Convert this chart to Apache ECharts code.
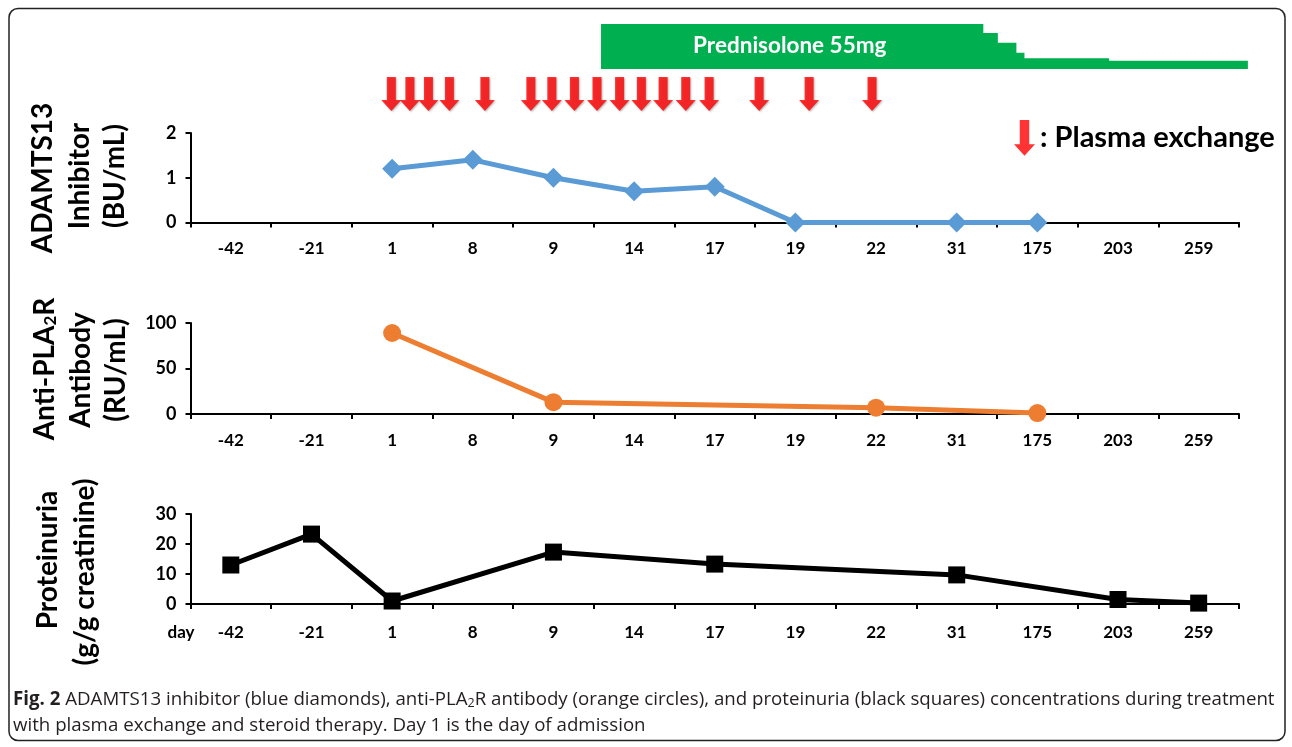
<!DOCTYPE html>
<html>
<head>
<meta charset="utf-8">
<script src="https://cdn.jsdelivr.net/npm/echarts@6/dist/echarts.min.js"></script>
<style>html,body{margin:0;padding:0;background:#fff}#c{width:1292px;height:747px}</style>
</head>
<body>
<div id="c"></div>
<script>
// ---- data ----
const categories = ['-42','-21','1','8','9','14','17','19','22','31','175','203','259'];
const adamts13 = [null, null, 1.2, 1.4, 1.0, 0.7, 0.8, 0, null, 0, 0, null, null];
const antiPLA2R = [null, null, 89, null, 13, null, null, null, 7, null, 1, null, null];
const proteinuria = [13, 23.3, 1, null, 17.3, null, 13.3, null, null, 9.7, null, 1.5, 0.3];
// plasma exchange sessions, positions in category-index units
const plasmaExchange = [1.99, 2.22, 2.45, 2.71, 3.15, 3.72, 3.98, 4.26, 4.54, 4.82, 5.09, 5.36, 5.64, 5.93, 6.55, 7.17, 7.95];
// prednisolone dose steps: start positions (category-index units) and dose (mg)
const predPos = [4.59, 9.33, 9.51, 9.74, 9.84, 10.89, 12.61];
const predDose = [55, 44, 32, 20, 13, 10, 10];

const FONT = 'Lato';
const CAPFONT = '"Open Sans"';
const arrowPath = 'path://M5.5,0 L14.5,0 L14.5,23 L20,23 L10,34 L0,23 L5.5,23 Z';

const chart = echarts.init(document.getElementById('c'));
const AX = '#000';
function xCat(grid, margin) {
  return {
    type: 'category', gridIndex: grid, data: categories, boundaryGap: true,
    axisLine: { show: true, lineStyle: { color: AX, width: 2 } },
    axisTick: { show: true, length: 5, lineStyle: { color: AX, width: 2 } },
    axisLabel: { color: '#000', fontFamily: FONT, fontWeight: 'bold', fontSize: 17, margin: margin, interval: 0 },
    splitLine: { show: false }
  };
}
function yVal(grid, max, interval) {
  return {
    type: 'value', gridIndex: grid, min: 0, max: max, interval: interval,
    axisLine: { show: true, lineStyle: { color: AX, width: 2 } },
    axisTick: { show: true, length: 5, lineStyle: { color: AX, width: 2 } },
    axisLabel: { color: '#000', fontFamily: FONT, fontWeight: 'bold', fontSize: 18, margin: 14 },
    splitLine: { show: false }
  };
}
function vtext(x, y, text, extra) {
  return Object.assign({
    type: 'text', x: x, y: y, rotation: Math.PI / 2,
    style: { text: text, fill: '#000', font: 'bold 28px ' + FONT, align: 'center', verticalAlign: 'middle' }
  }, extra || {});
}

const option = {
  animation: false,
  backgroundColor: '#fff',
  grid: [
    { left: 190.5, width: 1048.5, top: 133, height: 89.5 },
    { left: 190.5, width: 1048.5, top: 323, height: 91 },
    { left: 190.5, width: 1048.5, top: 514, height: 90 },
    { left: 190.5, width: 13.25 * 1048.5 / 13, top: 24, height: 45 },
    { left: 190.5, width: 1048.5, top: 77, height: 34 }
  ],
  xAxis: [
    xCat(0, 18), xCat(1, 18), xCat(2, 20),
    { type: 'value', gridIndex: 3, min: -0.5, max: 12.75, show: false },
    { type: 'value', gridIndex: 4, min: -0.5, max: 12.5, show: false }
  ],
  yAxis: [
    yVal(0, 2, 1), yVal(1, 100, 50), yVal(2, 30, 10),
    { type: 'value', gridIndex: 3, min: 0, max: 55, show: false },
    { type: 'value', gridIndex: 4, min: 0, max: 1, show: false }
  ],
  legend: {
    data: [{ name: 'Plasma exchange', icon: arrowPath }],
    left: 1009, top: 115, itemWidth: 21, itemHeight: 40, itemGap: 4,
    formatter: ': Plasma exchange',
    textStyle: { color: '#000', fontFamily: FONT, fontWeight: 'bold', fontSize: 29 },
    selectedMode: false
  },
  series: [
    {
      name: 'ADAMTS13', type: 'line', xAxisIndex: 0, yAxisIndex: 0, data: adamts13,
      connectNulls: true, symbol: 'diamond', symbolSize: 20,
      itemStyle: { color: '#5B9BD5' }, lineStyle: { color: '#5B9BD5', width: 5 }
    },
    {
      name: 'Anti-PLA2R', type: 'line', xAxisIndex: 1, yAxisIndex: 1, data: antiPLA2R,
      connectNulls: true, symbol: 'circle', symbolSize: 18,
      itemStyle: { color: '#ED7D31' }, lineStyle: { color: '#ED7D31', width: 5 }
    },
    {
      name: 'Proteinuria', type: 'line', xAxisIndex: 2, yAxisIndex: 2, data: proteinuria,
      connectNulls: true, symbol: 'rect', symbolSize: 17,
      itemStyle: { color: '#000' }, lineStyle: { color: '#000', width: 5 }
    },
    {
      name: 'Prednisolone', type: 'line', xAxisIndex: 3, yAxisIndex: 3, step: 'end',
      data: predPos.map((p, i) => [p, predDose[i]]),
      symbol: 'none', lineStyle: { width: 0, color: '#00B050' },
      areaStyle: { color: '#00B050', opacity: 1 },
      markPoint: {
        symbol: 'rect', symbolSize: 1, itemStyle: { color: 'rgba(0,0,0,0)' },
        data: [{ coord: [6.93, 28] }],
        label: { show: true, formatter: 'Prednisolone 55mg', color: '#fff', fontFamily: FONT, fontWeight: 'bold', fontSize: 22.5, position: 'inside' }
      }
    },
    {
      name: 'Plasma exchange', type: 'scatter', xAxisIndex: 4, yAxisIndex: 4,
      data: plasmaExchange.map(p => [p, 0.5]),
      symbol: arrowPath, symbolSize: [20, 34],
      itemStyle: { color: '#FF0000', shadowColor: 'rgba(0,0,0,0.35)', shadowBlur: 2, shadowOffsetX: 1, shadowOffsetY: 1 }
    }
  ],
  graphic: [
    { type: 'rect', shape: { x: 9, y: 8.5, width: 1276, height: 732, r: 9 }, style: { fill: 'none', stroke: '#222', lineWidth: 1.5 }, silent: true },
    vtext(43, 178, 'ADAMTS13'),
    vtext(80, 176, 'Inhibitor'),
    vtext(115, 176, '(BU/mL)'),
    {
      type: 'text', x: 45, y: 369, rotation: Math.PI / 2,
      style: {
        text: 'Anti-PLA{sub|2}R', fill: '#000', font: 'bold 28px ' + FONT, align: 'center', verticalAlign: 'middle',
        rich: { sub: { fontSize: 17, fontWeight: 'bold', fontFamily: FONT, verticalAlign: 'bottom', lineHeight: 14 } }
      }
    },
    vtext(81, 370, 'Antibody'),
    vtext(116, 370, '(RU/mL)'),
    vtext(48, 560, 'Proteinuria'),
    vtext(85, 572, '(g/g creatinine)'),
    { type: 'text', x: 181, y: 633, style: { text: 'day', fill: '#000', font: 'bold 17px ' + FONT, align: 'center', verticalAlign: 'middle' } },
    {
      type: 'text', x: 13, y: 700,
      style: {
        text: '{b|Fig. 2} ADAMTS13 inhibitor (blue diamonds), anti-PLA{sub|2}R antibody (orange circles), and proteinuria (black squares) concentrations during treatment',
        fill: '#231f20', font: '18.7px ' + CAPFONT, align: 'left', verticalAlign: 'middle',
        rich: {
          b: { fontWeight: 'bold', fontSize: 18.7, fontFamily: CAPFONT },
          sub: { fontSize: 12.5, fontFamily: CAPFONT, verticalAlign: 'bottom', lineHeight: 10 }
        }
      }
    },
    {
      type: 'text', x: 13, y: 726,
      style: { text: 'with plasma exchange and steroid therapy. Day 1 is the day of admission', fill: '#231f20', font: '18.7px ' + CAPFONT, align: 'left', verticalAlign: 'middle' }
    }
  ]
};
chart.setOption(option);
</script>
</body>
</html>
